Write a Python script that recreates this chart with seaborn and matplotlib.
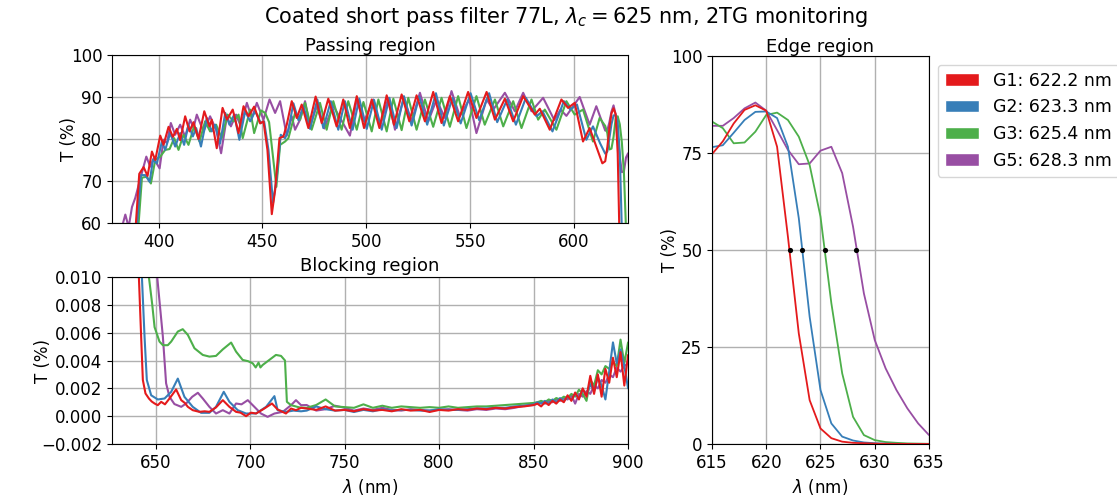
import numpy as np
import pandas as pd
import matplotlib
matplotlib.use("Agg")
import matplotlib.pyplot as plt
from matplotlib.patches import Patch
import seaborn as sns

# glasses and their measured cut-off (50 %) wavelengths
glasses = ["G1", "G2", "G3", "G5"]
cutoff_nm = [622.2, 623.3, 625.4, 628.3]
colors = ["#e41a1c", "#377eb8", "#4daf4a", "#984ea3"]

# passing region, (nm, T %) read at the turning points of each curve
red_pass = [(385, 30), (390.7, 71.7), (392.8, 73.3), (394.7, 71.2), (396.8, 77.0), (398.4, 75.0),
            (400.8, 80.8), (402.4, 78.6), (404.8, 82.9), (406.9, 80.5), (408.8, 82.4), (410.4, 79.7),
            (412.8, 85.4), (414.9, 81.8), (416.8, 84.0), (419.2, 80.0), (422.0, 86.6), (424.5, 83.0),
            (425.6, 84.6), (428.0, 77.8), (430.8, 87.4), (432.9, 84.6), (435.7, 87.0), (438.5, 81.4),
            (440.9, 87.8), (443.3, 85.4), (446.0, 87.7), (448.9, 83.7), (450.5, 84.2), (452.4, 77.4),
            (454.5, 62.1), (456.1, 67.8), (458.2, 80.2), (460.1, 80.6), (461.7, 83.4), (464.1, 89.0),
            (466.5, 85.0), (468.9, 88.2), (472.1, 82.6), (475.6, 90.1), (478.5, 83.8), (481.7, 89.6),
            (485.7, 83.0), (488.9, 89.4), (492.1, 82.6), (495.4, 90.2), (498.9, 82.6), (502.6, 89.4),
            (506.3, 82.6), (509.8, 90.4), (513.3, 83.4), (517.0, 90.6), (520.7, 84.2), (524.2, 90.4),
            (528.2, 84.2), (532.2, 91.2), (536.2, 83.8), (540.2, 90.2), (544.2, 84.2), (549.0, 91.2),
            (553.0, 85.0), (557.9, 91.2), (561.9, 84.6), (566.7, 89.6), (570.7, 84.2), (575.5, 90.2),
            (581.1, 85.8), (583.5, 87.2), (588.3, 82.2), (593.9, 89.4), (597.1, 87.4), (600.3, 88.6),
            (604.3, 79.4), (607.5, 82.6), (613.6, 74.2)]
blue_pass = [(385, 30), (391.5, 71.4), (393.6, 71.4), (395.7, 69.8), (397.3, 75.0), (399.2, 74.2),
             (401.6, 79.4), (403.2, 77.4), (405.6, 81.4), (408.0, 78.2), (410.4, 81.4), (412.3, 78.6),
             (414.4, 83.4), (416.5, 80.6), (418.1, 82.6), (420.4, 78.2), (423.2, 85.0), (425.6, 81.8),
             (427.2, 83.4), (429.6, 78.9), (432.1, 86.2), (434.1, 83.4), (436.4, 85.8), (438.9, 79.8),
             (441.7, 86.6), (444.1, 84.2), (446.5, 86.6), (449.2, 83.8), (450.8, 84.2), (452.9, 77.4),
             (455.1, 64.8), (456.9, 71.0), (458.8, 81.0), (460.9, 80.2), (462.5, 82.2), (464.9, 88.5),
             (467.3, 84.5), (469.7, 87.8), (472.9, 82.4), (476.4, 89.4), (479.3, 82.6), (482.9, 89.0),
             (486.5, 82.2), (489.7, 89.0), (493.4, 82.2), (496.6, 89.6), (500.2, 82.4), (503.7, 89.3),
             (507.4, 82.2), (511.1, 89.8), (514.6, 82.6), (518.1, 90.2), (521.8, 83.2), (525.5, 90.1),
             (529.3, 83.4), (533.5, 90.9), (537.3, 83.2), (541.5, 89.8), (545.4, 83.7), (550.2, 90.9),
             (554.3, 84.5), (559.1, 90.9), (563.0, 84.0), (567.8, 89.4), (572.0, 83.4), (576.8, 89.8),
             (581.9, 85.4), (584.8, 86.6), (589.6, 81.8), (595.1, 89.0), (598.2, 87.0), (601.4, 88.2),
             (605.9, 79.8), (609.1, 83.0), (612.5, 79.0)]
green_pass = [(386, 30), (392.0, 70.8), (394.4, 71.0), (396.3, 69.4), (398.4, 75.0), (400.8, 75.8),
              (403.2, 77.4), (405.3, 77.6), (407.5, 80.2), (409.6, 77.4), (412.0, 81.0), (414.4, 78.6),
              (417.1, 83.0), (419.7, 79.4), (422.4, 84.2), (424.8, 81.8), (427.7, 83.4), (430.4, 80.2),
              (433.2, 85.8), (436.1, 84.2), (438.5, 85.8), (440.5, 80.2), (444.1, 87.0), (446.0, 81.4),
              (449.3, 86.8), (451.3, 86.2), (453.2, 84.0), (456.7, 68.6), (458.5, 78.6), (460.9, 79.4),
              (462.5, 80.2), (465.7, 86.2), (468.1, 84.6), (470.5, 88.6), (473.7, 82.2), (477.7, 88.6),
              (480.9, 82.2), (484.1, 89.0), (488.1, 82.2), (491.3, 89.0), (495.4, 82.2), (498.6, 88.8),
              (502.6, 81.8), (505.8, 89.4), (509.8, 81.8), (513.0, 89.6), (517.0, 82.1), (520.2, 89.8),
              (524.2, 82.2), (528.2, 89.4), (532.2, 82.9), (536.2, 89.8), (540.2, 82.9), (544.2, 90.2),
              (548.2, 82.6), (553.0, 90.2), (557.0, 83.4), (561.9, 89.4), (565.9, 83.0), (570.7, 89.0),
              (574.7, 82.6), (579.5, 89.4), (582.7, 84.6), (585.9, 87.0), (591.5, 82.2), (596.3, 89.0),
              (600.3, 85.8), (604.3, 87.0), (609.1, 79.4), (612.3, 85.0)]
purple_pass = [(380, 50), (382.9, 60.0), (384.0, 62.0), (385.6, 59.0), (387.2, 63.8), (388.8, 66.0),
               (392.0, 72.0), (394.1, 75.8), (396.0, 73.4), (397.6, 75.4), (400.5, 73.0), (402.4, 79.8),
               (404.0, 79.0), (405.9, 83.8), (408.0, 81.0), (410.4, 83.4), (412.8, 80.6), (415.2, 84.6),
               (416.8, 82.6), (418.4, 85.8), (421.6, 81.8), (424.8, 85.4), (427.7, 82.2), (430.1, 76.6),
               (432.9, 85.4), (434.8, 83.0), (437.3, 85.8), (439.6, 83.0), (442.5, 88.6), (444.9, 85.0),
               (447.3, 88.6), (450.5, 84.6), (453.4, 89.4), (456.1, 86.2), (458.5, 89.0), (461.7, 80.8),
               (464.1, 85.4), (465.7, 82.2), (468.1, 84.6), (470.5, 89.0), (472.9, 83.0), (476.1, 87.8),
               (479.8, 82.5), (484.0, 88.0), (492.1, 80.8), (495.4, 89.4), (498.9, 84.2), (503.4, 89.4),
               (506.6, 83.0), (510.6, 89.8), (513.8, 82.2), (518.1, 89.8), (521.8, 84.2), (525.8, 91.0),
               (529.8, 84.2), (533.8, 89.4), (537.8, 85.0), (541.0, 91.4), (545.0, 85.4), (549.5, 89.4),
               (553.0, 81.4), (557.9, 89.4), (561.1, 87.0), (566.7, 91.0), (571.5, 86.6), (575.5, 91.0),
               (579.5, 86.6), (585.1, 89.8), (590.5, 84.5), (593.5, 87.0), (596.3, 85.5), (602.7, 90.0),
               (607.5, 83.4), (610.7, 87.8)]

# edge region, 1 nm steps from 615 to 635 nm (T %)
edge_nm = np.arange(615, 636)
red_edge = [74.7, 78.0, 82.6, 86.1, 87.3, 85.9, 76.6, 53.4, 28.5, 11.3, 4.0,
            1.5, 0.6, 0.3, 0.2, 0.1, 0.05, 0.03, 0.02, 0.01, 0.01]
blue_edge = [76.5, 77.0, 80.2, 83.5, 85.6, 85.7, 84.0, 76.6, 58.2, 32.8, 13.9,
             5.3, 1.9, 0.9, 0.4, 0.2, 0.1, 0.05, 0.03, 0.02, 0.01]
green_edge = [83.1, 81.4, 77.5, 77.7, 80.5, 84.8, 85.4, 83.5, 79.2, 71.9, 58.6,
              36.3, 18.2, 7.0, 2.3, 1.0, 0.5, 0.3, 0.15, 0.1, 0.05]
purple_edge = [82.0, 82.0, 84.0, 86.5, 88.0, 85.9, 80.9, 75.8, 72.1, 72.3, 75.6,
               76.6, 69.8, 56.0, 38.8, 26.8, 19.5, 13.9, 9.2, 5.3, 2.3]

# blocking region, T in units of 1e-3 %
red_block_head = [(638, 60), (641.2, 10), (642.4, 5.7), (643.3, 2.6), (644.7, 1.63), (646.5, 1.27),
                  (648.0, 1.05), (649.5, 0.91), (651.2, 0.79), (653.0, 1.03), (655.0, 0.85), (657.4, 1.27),
                  (660.9, 1.92), (663.6, 1.15), (665.5, 0.95), (667.1, 0.67), (669.7, 0.43), (673.2, 0.31),
                  (676.0, 0.35), (678.5, 0.31), (682.0, 0.63), (685.6, 1.15), (689.1, 0.67), (692.6, 0.31),
                  (695.0, 0.25), (697.9, 0.0), (700.5, 0.25), (703.2, 0.19), (707.0, 0.5), (711.6, 0.91),
                  (714.6, 0.48), (719.0, 0.19), (721.7, 0.55), (724.3, 0.43), (727.0, 0.6)]
blue_block_head = [(639, 60), (642.8, 10), (644.2, 5.7), (645.4, 2.6), (647.7, 1.5), (651.2, 1.2),
                   (654.8, 1.27), (658.3, 1.75), (661.8, 2.7), (665.3, 1.39), (669.7, 0.67), (674.1, 0.24),
                   (678.5, 0.24), (682.0, 0.67), (686.1, 1.75), (689.1, 1.03), (693.5, 0.43), (697.9, 0.19),
                   (703.2, 0.2), (708.5, 0.67), (712.9, 1.44), (714.6, 0.43), (719.0, 0.31), (723.0, 0.4),
                   (727.0, 0.35)]
green_block_head = [(643, 60), (646.5, 10), (648.2, 8.1), (649.5, 6.4), (652.1, 5.36), (653.9, 5.1),
                    (656.5, 5.1), (658.3, 5.36), (661.8, 6.08), (664.4, 6.25), (667.1, 5.84), (670.6, 4.88),
                    (675.0, 4.4), (678.5, 4.28), (682.0, 4.33), (685.6, 4.8), (690.0, 5.29), (692.6, 4.64),
                    (696.1, 4.04), (699.0, 3.95), (701.4, 3.8), (703.0, 3.5), (704.5, 3.85), (705.5, 3.5),
                    (706.7, 3.68), (710.2, 4.04), (713.7, 4.4), (716.4, 4.33), (718.5, 4.0), (719.5, 1.03),
                    (721.7, 0.79), (726.1, 0.63)]
purple_block_head = [(647, 60), (650.9, 10), (653.9, 5.7), (655.6, 2.36), (657.4, 1.39), (660.0, 0.87),
                     (663.6, 0.67), (666.2, 0.91), (669.4, 1.39), (672.4, 1.68), (675.0, 1.27), (678.5, 0.67),
                     (682.0, 0.19), (685.6, 0.43), (689.1, 0.19), (692.6, 0.91), (695.5, 0.85), (698.8, 1.15),
                     (702.3, 0.67), (705.8, 0.19), (709.3, -0.05), (712.9, 0.19), (717.3, 0.31), (721.7, 0.79),
                     (724.3, 1.15), (727.0, 0.79)]

# blocking tail: 730-850 nm every 5 nm, then 852-900 nm every 2 nm
block_tail_nm = np.concatenate([np.arange(730, 851, 5), np.arange(852, 901, 2)])
red_block_tail = [0.55, 0.45, 0.7, 0.4, 0.45, 0.35, 0.5, 0.4, 0.45, 0.35, 0.5, 0.4, 0.45, 0.3, 0.45,
                  0.4, 0.5, 0.45, 0.55, 0.5, 0.6, 0.55, 0.65, 0.7, 0.8,
                  0.9, 0.7, 1.0, 0.8, 1.1, 0.9, 1.2, 1.0, 1.5, 1.1, 1.7, 1.2, 2.0, 1.4, 2.9,
                  1.6, 3.0, 1.4, 3.4, 2.4, 4.2, 2.8, 4.6, 2.2, 4.4]
blue_block_tail = [0.4, 0.7, 0.5, 0.4, 0.45, 0.3, 0.45, 0.35, 0.5, 0.4, 0.45, 0.45, 0.4, 0.4, 0.5,
                   0.45, 0.45, 0.5, 0.55, 0.55, 0.6, 0.6, 0.7, 0.75, 0.85,
                   1.0, 0.9, 1.1, 0.9, 1.2, 1.0, 1.3, 1.1, 1.4, 1.2, 1.6, 1.3, 1.9, 1.5, 2.3,
                   1.8, 2.8, 2.2, 1.2, 3.2, 5.3, 3.8, 4.8, 3.6, 2.0]
green_block_tail = [0.6, 0.8, 1.2, 0.7, 0.65, 0.6, 0.85, 0.6, 0.75, 0.6, 0.7, 0.65, 0.6, 0.65, 0.6,
                    0.7, 0.6, 0.65, 0.7, 0.7, 0.75, 0.8, 0.85, 0.9, 0.95,
                    1.0, 1.1, 1.0, 1.2, 1.1, 1.3, 1.2, 1.4, 1.3, 1.6, 1.4, 1.9, 1.6, 1.1, 2.6,
                    2.2, 3.3, 3.0, 3.6, 3.4, 3.9, 3.6, 5.5, 3.8, 5.3]
purple_block_tail = [0.8, 0.4, 0.5, 0.75, 0.6, 0.4, 0.55, 0.45, 0.6, 0.45, 0.4, 0.5, 0.45, 0.4, 0.45,
                     0.5, 0.45, 0.4, 0.5, 0.45, 0.55, 0.5, 0.6, 0.75, 0.8,
                     0.9, 1.0, 0.9, 1.1, 1.0, 1.2, 1.1, 1.3, 1.2, 1.5, 0.9, 1.6, 1.4, 1.8, 1.6,
                     2.2, 2.0, 2.6, 2.4, 3.0, 2.8, 3.5, 3.2, 3.6, 3.8]

pass_pts = [red_pass, blue_pass, green_pass, purple_pass]
edge_vals = [red_edge, blue_edge, green_edge, purple_edge]
block_heads = [red_block_head, blue_block_head, green_block_head, purple_block_head]
block_tails = [red_block_tail, blue_block_tail, green_block_tail, purple_block_tail]


def long_df(pairs_per_glass):
    frames = []
    for g, (x, y) in zip(glasses, pairs_per_glass):
        frames.append(pd.DataFrame({"nm": x, "T": y, "glass": g}))
    return pd.concat(frames, ignore_index=True)


pass_df = long_df([(np.r_[[p[0] for p in pts], edge_nm], np.r_[[p[1] for p in pts], ev])
                   for pts, ev in zip(pass_pts, edge_vals)])
edge_df = long_df([(edge_nm, ev) for ev in edge_vals])
block_df = long_df([(np.r_[[p[0] for p in h], block_tail_nm],
                     np.r_[[p[1] for p in h], t] * 1e-3)
                    for h, t in zip(block_heads, block_tails)])

sns.set_style("ticks", {"axes.grid": True, "grid.color": "#b0b0b0", "grid.linestyle": "-",
                        "axes.edgecolor": "black", "xtick.color": "black", "ytick.color": "black",
                        "text.color": "black", "axes.labelcolor": "black"})
plt.rcParams["font.family"] = ["DejaVu Sans"]
plt.rcParams["font.size"] = 12
plt.rcParams["axes.titlesize"] = 13
plt.rcParams["axes.labelsize"] = 12
plt.rcParams["xtick.labelsize"] = 12
plt.rcParams["ytick.labelsize"] = 12
plt.rcParams["grid.linewidth"] = 1.0

palette = dict(zip(glasses, colors))
draw_order = glasses[::-1]

fig = plt.figure(figsize=(11.17, 5.03), dpi=100)
ax_pass = fig.add_axes([0.1003, 0.5567, 0.462, 0.334])
ax_block = fig.add_axes([0.1003, 0.1173, 0.462, 0.332])
ax_edge = fig.add_axes([0.6374, 0.1173, 0.1943, 0.7714])

sns.lineplot(data=pass_df, x="nm", y="T", hue="glass", hue_order=draw_order, palette=palette,
             sort=False, estimator=None, legend=False, linewidth=1.5, ax=ax_pass)
ax_pass.set_xlim(377.6, 626)
ax_pass.set_ylim(60, 100)
ax_pass.set_yticks([60, 70, 80, 90, 100])
ax_pass.set_xlabel("")
ax_pass.set_ylabel("T (%)")
ax_pass.yaxis.set_label_coords(-0.066, 0.5)
ax_pass.set_title("Passing region", pad=3)

sns.lineplot(data=block_df, x="nm", y="T", hue="glass", hue_order=draw_order, palette=palette,
             sort=False, estimator=None, legend=False, linewidth=1.5, ax=ax_block)
ax_block.set_xlim(627, 900)
ax_block.set_ylim(-0.002, 0.010)
ax_block.set_yticks(np.arange(-0.002, 0.0101, 0.002))
ax_block.set_xlabel(r"$\lambda$ (nm)")
ax_block.set_ylabel("T (%)")
ax_block.yaxis.set_label_coords(-0.116, 0.5)
ax_block.set_title("Blocking region", pad=4)

sns.lineplot(data=edge_df, x="nm", y="T", hue="glass", hue_order=draw_order, palette=palette,
             sort=False, estimator=None, legend=False, linewidth=1.3, ax=ax_edge)
sns.scatterplot(x=cutoff_nm, y=[50] * len(cutoff_nm), color="black", s=14, linewidth=0,
                zorder=5, ax=ax_edge)
ax_edge.set_xlim(615, 635)
ax_edge.set_ylim(0, 100)
ax_edge.set_xticks([615, 620, 625, 630, 635])
ax_edge.set_yticks([0, 25, 50, 75, 100])
ax_edge.set_xlabel(r"$\lambda$ (nm)")
ax_edge.set_ylabel("T (%)")
ax_edge.yaxis.set_label_coords(-0.15, 0.5)
ax_edge.set_title("Edge region", pad=3)

handles = [Patch(facecolor=c, label=f"{g}: {w} nm") for g, c, w in zip(glasses, colors, cutoff_nm)]
ax_edge.legend(handles=handles, loc="upper left", bbox_to_anchor=(1.0, 1.0), fontsize=12.5)

fig.suptitle(r"Coated short pass filter 77L, $\lambda_c = 625$ nm, 2TG monitoring",
             fontsize=15, x=0.507, y=0.99, va="top")

fig.savefig("out.png", dpi=100)
